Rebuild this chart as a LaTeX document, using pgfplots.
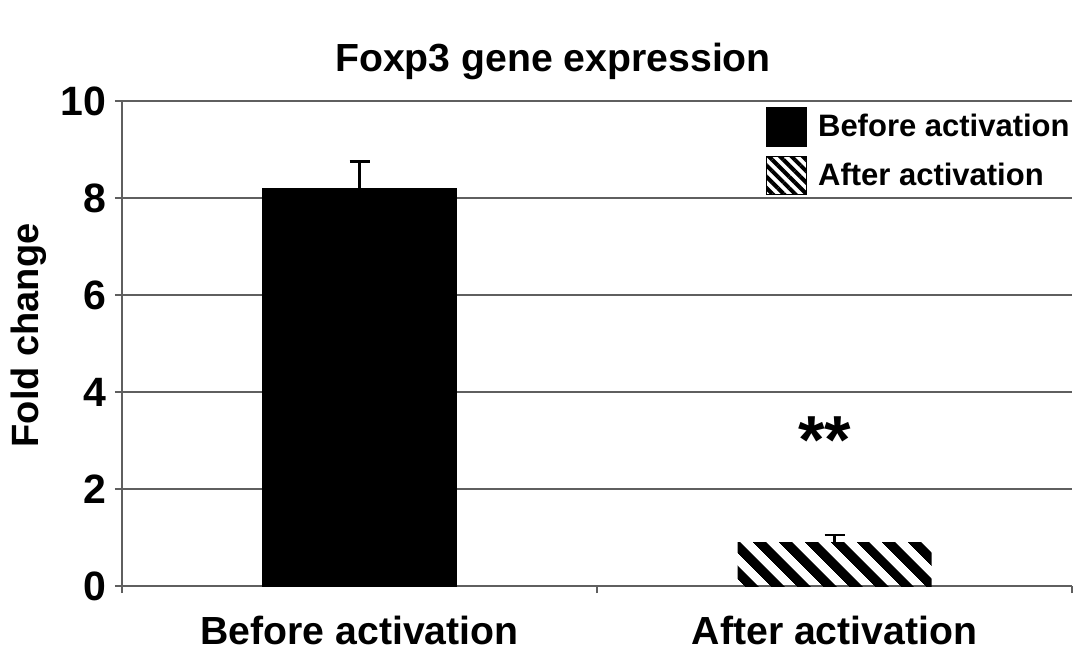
\documentclass[border=0pt]{standalone}
\usepackage{pgfplots}
\pgfplotsset{compat=1.18}
\usepackage{fontspec}
\setmainfont{Liberation Sans}
\usetikzlibrary{patterns.meta}
\definecolor{gridgray}{RGB}{95,95,95}
\begin{document}
\begin{tikzpicture}
\useasboundingbox (-61bp,-40bp) rectangle (482.5bp,293bp);
\begin{axis}[
  at={(0,0)}, anchor=south west,
  scale only axis, width=475bp, height=242.5bp,
  xmin=-0.5, xmax=1.5, ymin=0, ymax=10,
  axis x line*=bottom, axis y line*=left,
  axis line style={gridgray, line width=1.3bp},
  ytick={0,2,4,6,8,10},
  ymajorgrids,
  major grid style={gridgray, line width=1.3bp},
  xtick={0,1},
  xticklabels={Before activation, After activation},
  minor xtick={-0.5,0.5,1.5},
  major x tick style={draw=none},
  tick style={gridgray, line width=1.3bp},
  tick align=outside,
  major tick length=3.5bp, minor tick length=3.5bp,
  /pgf/number format/assume math mode=true,
  yticklabel style={font=\bfseries\fontsize{20.5bp}{24bp}\selectfont, xshift=-1bp},
  xticklabel style={font=\bfseries\fontsize{19.6bp}{24bp}\selectfont, yshift=-8bp},
  ylabel={Fold change},
  ylabel style={font=\bfseries\fontsize{19bp}{23bp}\selectfont, xshift=4bp},
  title={Foxp3 gene expression},
  title style={font=\bfseries\fontsize{19.6bp}{23bp}\selectfont, yshift=1bp, xshift=-22bp},
  legend style={at={(1,1)}, anchor=north east, draw=none, fill=none,
    font=\bfseries\fontsize{15.5bp}{18bp}\selectfont, row sep=4bp,
    xshift=4bp, yshift=-1bp},
  legend cell align=left,
  legend image code/.code={\draw[#1] (0bp,-9.5bp) rectangle (20bp,9.5bp); \path (23bp,0bp);},
  clip=false,
]
\addlegendimage{fill=black, draw=black, line width=0.6bp}
\addlegendentry{Before activation}
\addlegendimage{draw=black, line width=0.6bp, pattern={Lines[angle=-45,distance=4bp,line width=2bp]}, pattern color=black}
\addlegendentry{After activation}

\addplot[ybar, bar width=97bp, bar shift=0pt, fill=black, draw=black, forget plot,
  error bars/.cd, y dir=plus, y explicit,
  error bar style={line width=1.4bp, black},
  error mark options={rotate=90, line width=1.4bp, mark size=5bp, black}]
  coordinates {(0,8.2) +- (0,0.55)};
\addplot[ybar, bar width=97bp, bar shift=0pt, draw=none, forget plot,
  pattern={Lines[angle=-45,distance=9.5bp,line width=5bp]}, pattern color=black,
  error bars/.cd, y dir=plus, y explicit,
  error bar style={line width=1.4bp, black},
  error mark options={rotate=90, line width=1.4bp, mark size=5bp, black}]
  coordinates {(1,0.9) +- (0,0.15)};
\node[font=\bfseries\fontsize{34bp}{34bp}\selectfont] at (axis cs:0.98,3.0) {**};
\end{axis}
\end{tikzpicture}
\end{document}
